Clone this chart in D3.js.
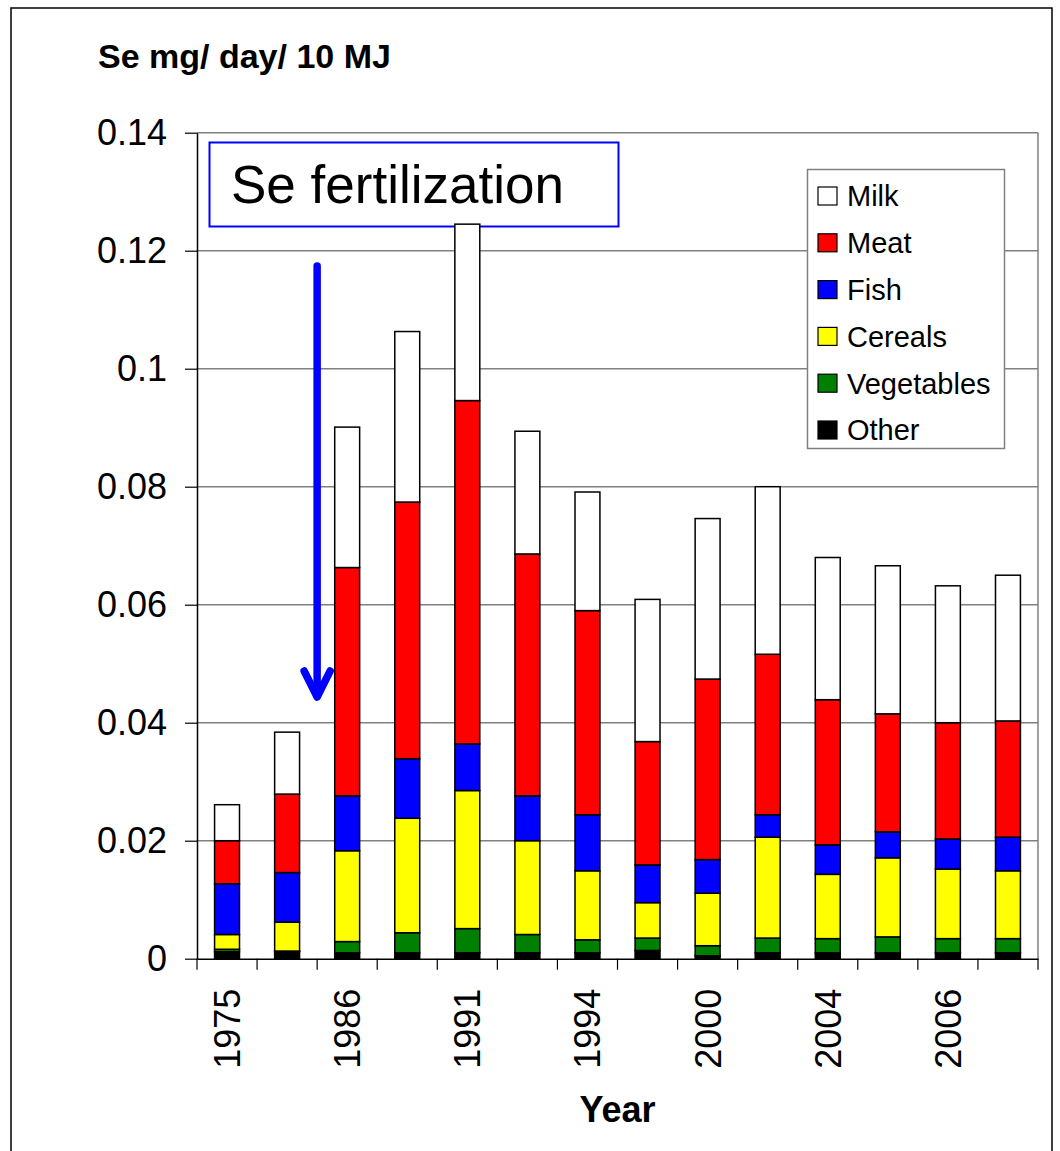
<!DOCTYPE html>
<html>
<head>
<meta charset="utf-8">
<script src="https://cdn.jsdelivr.net/npm/d3@7"></script>
<style>
  html, body { margin: 0; padding: 0; background: #fff; }
  svg { display: block; font-family: "Liberation Sans", Arial, sans-serif; }
</style>
</head>
<body>
<svg id="chart" width="1060" height="1151"></svg>
<script>
// Survey years (x categories); only every second one gets a printed label
const years = ["1975","1980","1986","1988","1991","1992","1994","1997","2000","2002","2004","2005","2006","2007"];
const labelledYears = ["1975","1986","1991","1994","2000","2004","2006"];

// Selenium intake by food group, mg/day/10 MJ
const other      = [0.0012,0.0012,0.0010,0.0010,0.0010,0.0010,0.0010,0.0014,0.0005,0.0010,0.0010,0.0010,0.0010,0.0010];
const vegetables = [0.0004,0.0001,0.0019,0.0034,0.0041,0.0031,0.0022,0.0021,0.0017,0.0025,0.0024,0.0027,0.0024,0.0024];
const cereals    = [0.0025,0.0049,0.0154,0.0194,0.0234,0.0159,0.0117,0.0060,0.0089,0.0171,0.0109,0.0134,0.0118,0.0115];
const fish       = [0.0086,0.0084,0.0093,0.0101,0.0079,0.0076,0.0095,0.0064,0.0057,0.0038,0.0050,0.0044,0.0051,0.0057];
const meat       = [0.0073,0.0133,0.0387,0.0435,0.0582,0.0410,0.0346,0.0209,0.0306,0.0272,0.0246,0.0200,0.0197,0.0197];
const milk       = [0.0061,0.0105,0.0238,0.0289,0.0299,0.0208,0.0201,0.0241,0.0272,0.0284,0.0241,0.0251,0.0232,0.0247];

const yTicks = [0, 0.02, 0.04, 0.06, 0.08, 0.1, 0.12, 0.14];

// Stack order from bottom to top, legend order from top to bottom
const stackKeys = ["Other","Vegetables","Cereals","Fish","Meat","Milk"];
const legendKeys = ["Milk","Meat","Fish","Cereals","Vegetables","Other"];
const colours = {Milk:"#ffffff", Meat:"#ff0000", Fish:"#0000ff", Cereals:"#ffff00", Vegetables:"#008000", Other:"#000000"};

const seriesByKey = {Other: other, Vegetables: vegetables, Cereals: cereals, Fish: fish, Meat: meat, Milk: milk};
const rows = years.map((yr, i) => {
  const r = {year: yr};
  stackKeys.forEach(k => r[k] = seriesByKey[k][i]);
  return r;
});

const svg = d3.select("#chart");
const plot = {left: 197, right: 1038, top: 132.7, bottom: 958.7};

// outer frame of the figure
svg.append("rect")
  .attr("x", 11).attr("y", 8).attr("width", 1041).attr("height", 1160)
  .attr("fill", "none").attr("stroke", "#000").attr("stroke-width", 1.5);

const x = d3.scaleBand().domain(years).range([plot.left, plot.right])
  .paddingInner(0.585).paddingOuter(0.2925);
const y = d3.scaleLinear().domain([0, 0.14]).range([plot.bottom, plot.top]);

// horizontal gridlines
svg.append("g").selectAll("line")
  .data(yTicks.filter(t => t > 0))
  .join("line")
  .attr("x1", plot.left).attr("x2", plot.right)
  .attr("y1", d => y(d)).attr("y2", d => y(d))
  .attr("stroke", "#808080").attr("stroke-width", 1.5);

// right border of the plot area
svg.append("line")
  .attr("x1", plot.right).attr("x2", plot.right)
  .attr("y1", y(0.14)).attr("y2", y(0))
  .attr("stroke", "#808080").attr("stroke-width", 1.5);

// annotation box: start of selenium fertilization (sits behind the bars)
svg.append("rect")
  .attr("x", 209.5).attr("y", 142.5).attr("width", 409).attr("height", 84)
  .attr("fill", "#fff").attr("stroke", "#0000ff").attr("stroke-width", 2);
svg.append("text")
  .attr("x", 231).attr("y", 203)
  .attr("font-size", 53)
  .text("Se fertilization");

// stacked bars
const stacked = d3.stack().keys(stackKeys)(rows);
svg.append("g").selectAll("g")
  .data(stacked)
  .join("g")
  .attr("fill", d => colours[d.key])
  .selectAll("rect")
  .data(d => d)
  .join("rect")
  .attr("x", d => x(d.data.year))
  .attr("width", x.bandwidth())
  .attr("y", d => y(d[1]))
  .attr("height", d => y(d[0]) - y(d[1]))
  .attr("stroke", "#000").attr("stroke-width", 1.5);

// y axis
const yAxis = d3.axisLeft(y)
  .tickValues(yTicks)
  .tickFormat(d => d === 0 ? "0" : String(+d.toFixed(2)))
  .tickSize(12).tickSizeOuter(0).tickPadding(18);
const gy = svg.append("g").attr("transform", `translate(${plot.left},0)`).call(yAxis);
gy.select(".domain").attr("stroke", "#000").attr("stroke-width", 1.5);
gy.selectAll(".tick line").attr("stroke", "#000").attr("stroke-width", 1.2);
gy.selectAll(".tick text")
  .attr("font-family", "'Liberation Sans', Arial, sans-serif")
  .attr("font-size", 36).attr("fill", "#000");

// x axis: tick marks at category boundaries, labels on every second year
const xAxis = d3.axisBottom(x).tickSize(0).tickSizeOuter(0)
  .tickFormat(d => labelledYears.includes(d) ? d : "");
const gx = svg.append("g").attr("transform", `translate(0,${plot.bottom})`).call(xAxis);
gx.select(".domain").attr("stroke", "#000").attr("stroke-width", 1.5);
gx.selectAll(".tick text")
  .attr("font-family", "'Liberation Sans', Arial, sans-serif")
  .attr("font-size", 36).attr("fill", "#000")
  .attr("text-anchor", "end")
  .attr("transform", "translate(0,30) rotate(-90)")
  .attr("x", 0).attr("y", 0).attr("dy", "0.36em");

const boundaries = d3.range(years.length + 1).map(i => plot.left + i * x.step());
gx.append("g").selectAll("line")
  .data(boundaries)
  .join("line")
  .attr("x1", d => d).attr("x2", d => d)
  .attr("y1", 0).attr("y2", 11)
  .attr("stroke", "#000").attr("stroke-width", 1.2);

// axis titles
svg.append("text")
  .attr("x", 98).attr("y", 68)
  .attr("font-size", 34).attr("font-weight", "bold")
  .text("Se mg/ day/ 10 MJ");

svg.append("text")
  .attr("x", (plot.left + plot.right) / 2).attr("y", 1122)
  .attr("text-anchor", "middle")
  .attr("font-size", 36).attr("font-weight", "bold")
  .text("Year");

// arrow marking when fertilization began
const arrowX = (x("1980") + x.bandwidth() + x("1986")) / 2;
const arrow = svg.append("g")
  .attr("stroke", "#0000ff").attr("stroke-width", 7.5)
  .attr("stroke-linecap", "round").attr("stroke-linejoin", "round").attr("fill", "none");
arrow.append("line")
  .attr("x1", arrowX).attr("x2", arrowX).attr("y1", 266).attr("y2", 696);
arrow.append("polyline")
  .attr("points", `${arrowX - 13},${671} ${arrowX},${697} ${arrowX + 13},${671}`);

// legend
const legend = svg.append("g");
legend.append("rect")
  .attr("x", 807.5).attr("y", 169.5).attr("width", 197).attr("height", 279)
  .attr("fill", "#fff").attr("stroke", "#808080").attr("stroke-width", 1.5);
const item = legend.selectAll("g.item")
  .data(legendKeys)
  .join("g")
  .attr("class", "item")
  .attr("transform", (d, i) => `translate(0,${196 + i * 46.8})`);
item.append("rect")
  .attr("x", 818).attr("y", -9).attr("width", 19).attr("height", 18)
  .attr("fill", d => colours[d]).attr("stroke", "#000").attr("stroke-width", 1.2);
item.append("text")
  .attr("x", 847).attr("y", 0).attr("dy", "0.36em")
  .attr("font-size", 29)
  .text(d => d);
</script>
</body>
</html>
